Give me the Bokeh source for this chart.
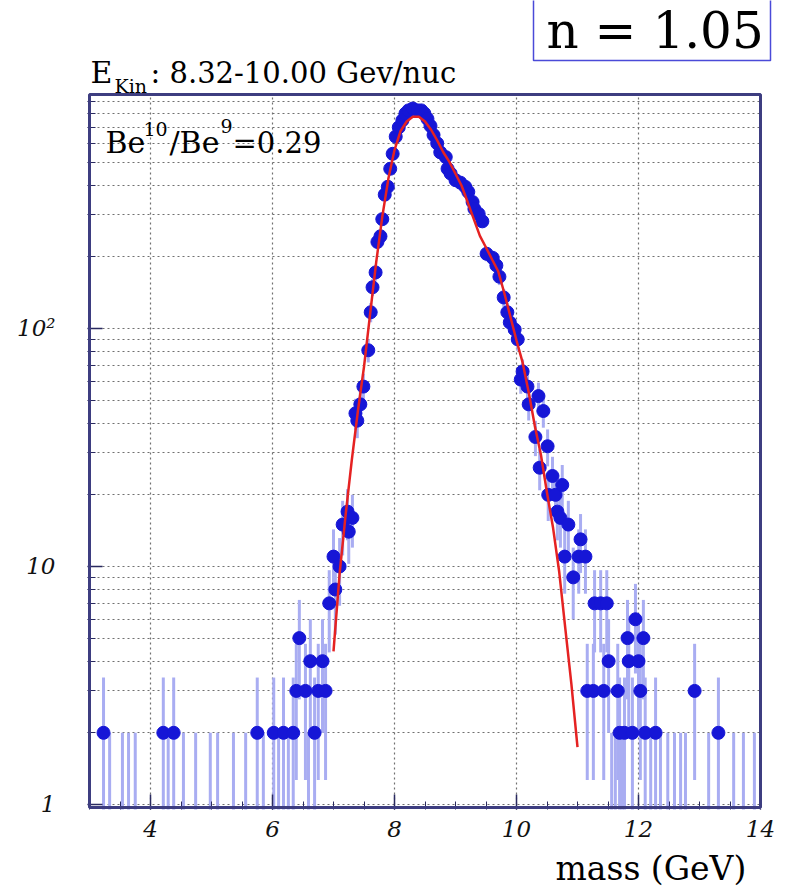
import math
import numpy as np
from bokeh.plotting import figure
from bokeh.models import FixedTicker, Label, BoxAnnotation, Title
from bokeh.embed import file_html
from bokeh.resources import INLINE

# ---------------- data ----------------
# histogram bins (mass in GeV) with 2 or more entries, and their counts
mass = [3.23, 4.21, 4.38, 5.75, 6.02, 6.18, 6.34, 6.39, 6.44, 6.54, 6.62, 6.69, 6.75,
        6.82, 6.87, 6.93, 7.00, 7.03, 7.10, 7.15, 7.23, 7.25, 7.31, 7.36, 7.39, 7.44,
        7.49, 7.57, 7.61, 7.64, 7.69, 7.72, 7.77, 7.80, 7.84, 7.89, 7.93, 7.97, 8.02,
        8.07, 8.13, 8.18, 8.23, 8.30, 8.38, 8.44, 8.49, 8.54, 8.59, 8.64, 8.70, 8.75,
        8.84, 8.87, 8.92, 9.00, 9.08, 9.16, 9.21, 9.28, 9.31, 9.38, 9.44, 9.51, 9.61,
        9.67, 9.72, 9.79, 9.85, 9.89, 9.97, 10.02, 10.07, 10.10, 10.18, 10.20, 10.31,
        10.36, 10.38, 10.44, 10.51, 10.52, 10.59, 10.64, 10.67, 10.72, 10.75, 10.79,
        10.85, 10.93, 11.02, 11.05, 11.13, 11.16, 11.26, 11.28, 11.38, 11.43, 11.48,
        11.51, 11.66, 11.69, 11.77, 11.82, 11.84, 11.90, 11.95, 12.00, 12.03, 12.08,
        12.11, 12.28, 12.92, 13.31]
counts = [2, 2, 2, 2, 2, 2, 2, 3, 5, 3, 4, 2, 3,
          4, 3, 7, 11, 8, 10, 15, 17, 14, 16, 44, 41, 48,
          57, 81, 117, 149, 172, 231, 244, 288, 365, 394, 469, 542, 640,
          700, 750, 800, 825, 840, 825, 825, 800, 760, 710, 650, 600, 550,
          525, 469, 448, 420, 410, 394, 375, 340, 318, 303, 282, 206, 198,
          184, 165, 135, 117, 106, 99, 90, 61, 66, 57, 48, 35,
          52, 26, 45, 32, 20, 24, 20, 17, 16, 22, 11,
          15, 9, 11, 13, 11, 3, 3, 7, 7, 3, 7,
          4, 3, 2, 2, 5, 4, 2, 6, 4, 3, 5,
          2, 2, 3, 2]

# bins holding a single entry (only their error bar is visible)
single_mass = [3.33, 3.54, 3.64, 3.75, 4.29, 4.54, 4.74, 4.98, 5.10, 5.36, 5.56, 5.85,
               6.10, 6.26, 6.59, 11.56, 11.62, 11.73, 12.20, 12.36, 12.48, 12.59, 12.69,
               12.77, 13.15, 13.56, 13.72, 13.90]
single_count = [1] * len(single_mass)

# fitted curve (red)
fit_mass = [7.00, 7.10, 7.20, 7.30, 7.40, 7.50, 7.60, 7.70, 7.80, 7.90, 8.00, 8.10,
            8.20, 8.30, 8.40, 8.50, 8.60, 8.70, 8.80, 8.90, 9.00, 9.10, 9.20, 9.30,
            9.40, 9.50, 9.60, 9.70, 9.80, 9.90, 10.00, 10.10, 10.20, 10.30, 10.40,
            10.50, 10.60, 10.70, 10.80, 10.90, 11.00]
fit_vals = [4.4, 9.3, 16.6, 28, 45, 69, 115, 190, 295, 427, 562, 676,
            741, 776, 776, 741, 684, 617, 550, 501, 447, 398, 339, 288,
            245, 219, 195, 174, 141, 112, 89, 72, 54, 39, 29.5,
            20.4, 14.5, 9.5, 5.5, 3.2, 1.74]

x_ticks = [4, 6, 8, 10, 12, 14]
y_ticks = [1, 10, 100]
y_tick_labels = ["1", "10", "10\u00b2"]

title_main = ": 8.32-10.00 Gev/nuc"
ratio_value = "=0.29"
index_label = "n = 1.05"
x_label = "mass (GeV)"

# ---------------- layout ----------------
W, H = 793, 896
# frame of the histogram (pixels)
FL, FR, FT, FB = 89, 760, 94, 807
X0, X1 = 3.0, 14.0
Y0, Y1 = 0.971, 962.0
# bokeh drawing area (a bit larger, so texts around the frame can be drawn)
BL, BR, BT, BB = 87, W, 0, 809

PXX = (FR - FL) / (X1 - X0)                      # px per GeV
LO, HI = math.log10(Y0), math.log10(Y1)
PXY = (FB - FT) / (HI - LO)                      # px per decade

xr = (X0 - (FL - BL) / PXX, X1 + (BR - FR) / PXX)
yr = (10 ** (LO - (BB - FB) / PXY), 10 ** (HI + (FT - BT) / PXY))


def dx(px):
    return X0 + (px - FL) / PXX


def dy(py):
    return 10 ** (HI - (py - FT) / PXY)


p = figure(width=W, height=H, x_range=xr, y_range=yr, y_axis_type="log",
           output_backend="svg", toolbar_location=None,
           min_border_left=BL, min_border_right=W - BR,
           min_border_top=BT, min_border_bottom=H - BB)
p.background_fill_color = "white"
p.border_fill_color = "white"
p.outline_line_color = None

# error bars
m_all = list(mass) + list(single_mass)
c_all = list(counts) + list(single_count)
lo = [max(c - math.sqrt(c), 0.5) for c in c_all]
hi = [c + math.sqrt(c) for c in c_all]
p.segment(x0=m_all, y0=lo, x1=m_all, y1=hi, line_color="#a9adf2", line_width=3)

# points
p.scatter(mass, counts, size=13, fill_color="#1616d6", line_color="#1616d6")

# fit
p.line(fit_mass, fit_vals, line_color="#e52222", line_width=2.5)

# axes
minor_x = list(np.arange(3.0, 14.01, 0.5))
minor_y = [k * 10 ** e for e in range(0, 3) for k in range(2, 10)]
p.xaxis.ticker = FixedTicker(ticks=x_ticks, minor_ticks=minor_x)
p.yaxis.ticker = FixedTicker(ticks=y_ticks, minor_ticks=minor_y)
p.yaxis.major_label_overrides = {t: s for t, s in zip(y_ticks, y_tick_labels)}
for ax in (p.xaxis[0], p.yaxis[0]):
    ax.axis_line_color = None
    ax.major_tick_in = 15
    ax.major_tick_out = 0
    ax.minor_tick_in = 8
    ax.minor_tick_out = 0
    ax.major_tick_line_color = "#2a2a60"
    ax.minor_tick_line_color = "#2a2a60"
    ax.major_tick_line_width = 1.5
    ax.major_label_text_font = "DejaVu Serif"
    ax.major_label_text_font_style = "italic"
    ax.major_label_text_font_size = "23px"
    ax.major_label_text_color = "#111111"
p.xaxis.major_label_standoff = 11
p.yaxis.major_label_standoff = 32

# grid
p.xgrid.ticker = FixedTicker(ticks=[4, 6, 8, 10, 12])
p.xgrid.grid_line_color = "#707070"
p.xgrid.grid_line_dash = "2 3"
p.xgrid.grid_line_width = 1.2
p.ygrid.ticker = FixedTicker(ticks=y_ticks, minor_ticks=minor_y)
p.ygrid.grid_line_color = "#707070"
p.ygrid.grid_line_dash = "2 3"
p.ygrid.grid_line_width = 1.2
p.ygrid.minor_grid_line_color = "#707070"
p.ygrid.minor_grid_line_dash = "2 3"
p.ygrid.minor_grid_line_width = 1.2

# white areas outside the histogram frame, then the frame itself
p.add_layout(BoxAnnotation(bottom=Y1, fill_color="white", fill_alpha=1, line_color=None))
p.add_layout(BoxAnnotation(left=X1, fill_color="white", fill_alpha=1, line_color=None))
p.add_layout(BoxAnnotation(left=X0, right=X1, bottom=Y0, top=Y1, fill_alpha=0,
                           line_color="#3d3d80", line_width=3, line_alpha=1))

# box around the index value (top right, its top edge is off the page)
p.add_layout(BoxAnnotation(left=dx(533), right=dx(770), bottom=dy(60), top=dy(-6),
                           fill_color="white", fill_alpha=1,
                           line_color="#4a4ad8", line_width=1.5, line_alpha=1))


def lab(text, px, py, size, align="left"):
    # py is the wanted baseline; bokeh puts the text box bottom there
    l = Label(x=dx(px), y=dy(py - 0.4 * size), text=text, text_font="DejaVu Serif",
              text_font_size=f"{size}px", text_align=align, text_baseline="alphabetic",
              text_color="black")
    p.add_layout(l)
    return l


# title E_Kin : ...
lab("E", 90, 84, 30)
lab("Kin", 114, 93, 19)
lab(title_main, 150, 84, 29)

# Be10/Be9 = 0.29
lab("Be", 105, 154, 30)
lab("10", 143, 136, 19)
lab("/Be", 169, 154, 30)
lab("9", 220, 133, 19)
lab(ratio_value, 232, 154, 29)

# index value
lab(index_label, 546, 50, 50)

# x axis title, under the tick labels
xt = Title(text=x_label, align="left", offset=555 - BL, standoff=14,
           text_font="DejaVu Serif", text_font_size="33px",
           text_font_style="normal", text_color="black")
p.add_layout(xt, "below")

open("out.html", "w").write(file_html(p, INLINE))
